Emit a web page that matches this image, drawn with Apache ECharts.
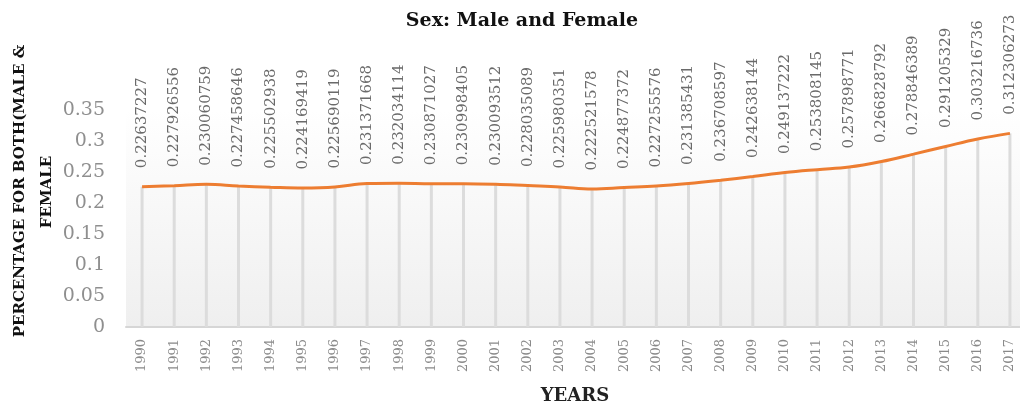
<!DOCTYPE html>
<html>
<head>
<meta charset="utf-8">
<script src="https://cdn.jsdelivr.net/npm/echarts@6/dist/echarts.min.js"></script>
<style>
html,body{margin:0;padding:0;background:#fff;overflow:hidden;}
#wrap{width:1020px;height:404px;overflow:hidden;}
#chart{width:1026px;height:404px;}
</style>
</head>
<body>
<div id="wrap"><div id="chart"></div></div>
<script>
var years = ['1990','1991','1992','1993','1994','1995','1996','1997','1998','1999','2000','2001','2002','2003','2004','2005','2006','2007','2008','2009','2010','2011','2012','2013','2014','2015','2016','2017'];
var percentages = [0.22637227,0.227926556,0.230060759,0.227458646,0.225502938,0.224169419,0.225690119,0.231371668,0.232034114,0.230871027,0.230998405,0.230093512,0.228035089,0.225980351,0.222521578,0.224877372,0.227255576,0.231385431,0.236708597,0.242638144,0.249137222,0.253808145,0.257898771,0.266828792,0.278846389,0.291205329,0.303216736,0.312306273];
var yTicks = [0, 0.05, 0.1, 0.15, 0.2, 0.25, 0.3, 0.35];
var titleText = 'Sex: Male and Female';
var yName1 = 'PERCENTAGE FOR BOTH(MALE &';
var yName2 = 'FEMALE';
var xName = 'YEARS';

var chart = echarts.init(document.getElementById('chart'));
chart.setOption({
  animation: false,
  backgroundColor: '#ffffff',
  title: {
    text: titleText,
    left: 517, top: 7, textAlign: 'center',
    textStyle: {fontFamily: 'DejaVu Serif', fontWeight: 'bold', fontSize: 19, color: '#111'}
  },
  grid: {
    left: 126, right: 0, top: 110, bottom: 77,
    show: true, borderWidth: 0,
    backgroundColor: {type: 'linear', x: 0, y: 0, x2: 0, y2: 1,
      colorStops: [{offset: 0, color: '#ffffff'}, {offset: 1, color: '#efefef'}]}
  },
  xAxis: {
    type: 'category',
    data: years,
    boundaryGap: true,
    axisLine: {show: true, lineStyle: {color: '#d6d6d6', width: 2}},
    axisTick: {show: false},
    splitLine: {show: false},
    axisLabel: {rotate: 90, margin: 12, fontFamily: 'DejaVu Serif', fontSize: 13, color: '#8a8a8a', interval: 0}
  },
  yAxis: {
    type: 'value',
    min: yTicks[0], max: yTicks[yTicks.length - 1], interval: 0.05,
    axisLine: {show: false},
    axisTick: {show: false},
    splitLine: {show: false},
    axisLabel: {margin: 21, fontFamily: 'DejaVu Serif', fontSize: 19, color: '#8f8f8f'}
  },
  graphic: [
    {type: 'text', rotation: Math.PI / 2, x: 20, y: 191,
     style: {text: yName1, fontFamily: 'DejaVu Serif', fontWeight: 'bold', fontSize: 15, fill: '#111', align: 'center', verticalAlign: 'middle'}},
    {type: 'text', rotation: Math.PI / 2, x: 47, y: 192,
     style: {text: yName2, fontFamily: 'DejaVu Serif', fontWeight: 'bold', fontSize: 15, fill: '#111', align: 'center', verticalAlign: 'middle'}},
    {type: 'text', x: 575, y: 396,
     style: {text: xName, fontFamily: 'DejaVu Serif', fontWeight: 'bold', fontSize: 18, fill: '#222', align: 'center', verticalAlign: 'middle'}}
  ],
  series: [
    {
      type: 'bar', data: percentages, barWidth: 3, silent: true,
      itemStyle: {color: '#dcdcdc'}, z: 1
    },
    {
      type: 'line', data: percentages, smooth: 0.4, symbol: 'circle', symbolSize: 1, showSymbol: true, z: 3,
      itemStyle: {color: 'rgba(237,125,49,0)'},
      lineStyle: {color: '#ED7D31', width: 3},
      label: {show: true, position: 'top', rotate: 90, align: 'left', verticalAlign: 'middle', distance: 18,
        fontFamily: 'DejaVu Serif', fontSize: 15, color: '#6a6a6a'}
    }
  ]
});
</script>
</body>
</html>
